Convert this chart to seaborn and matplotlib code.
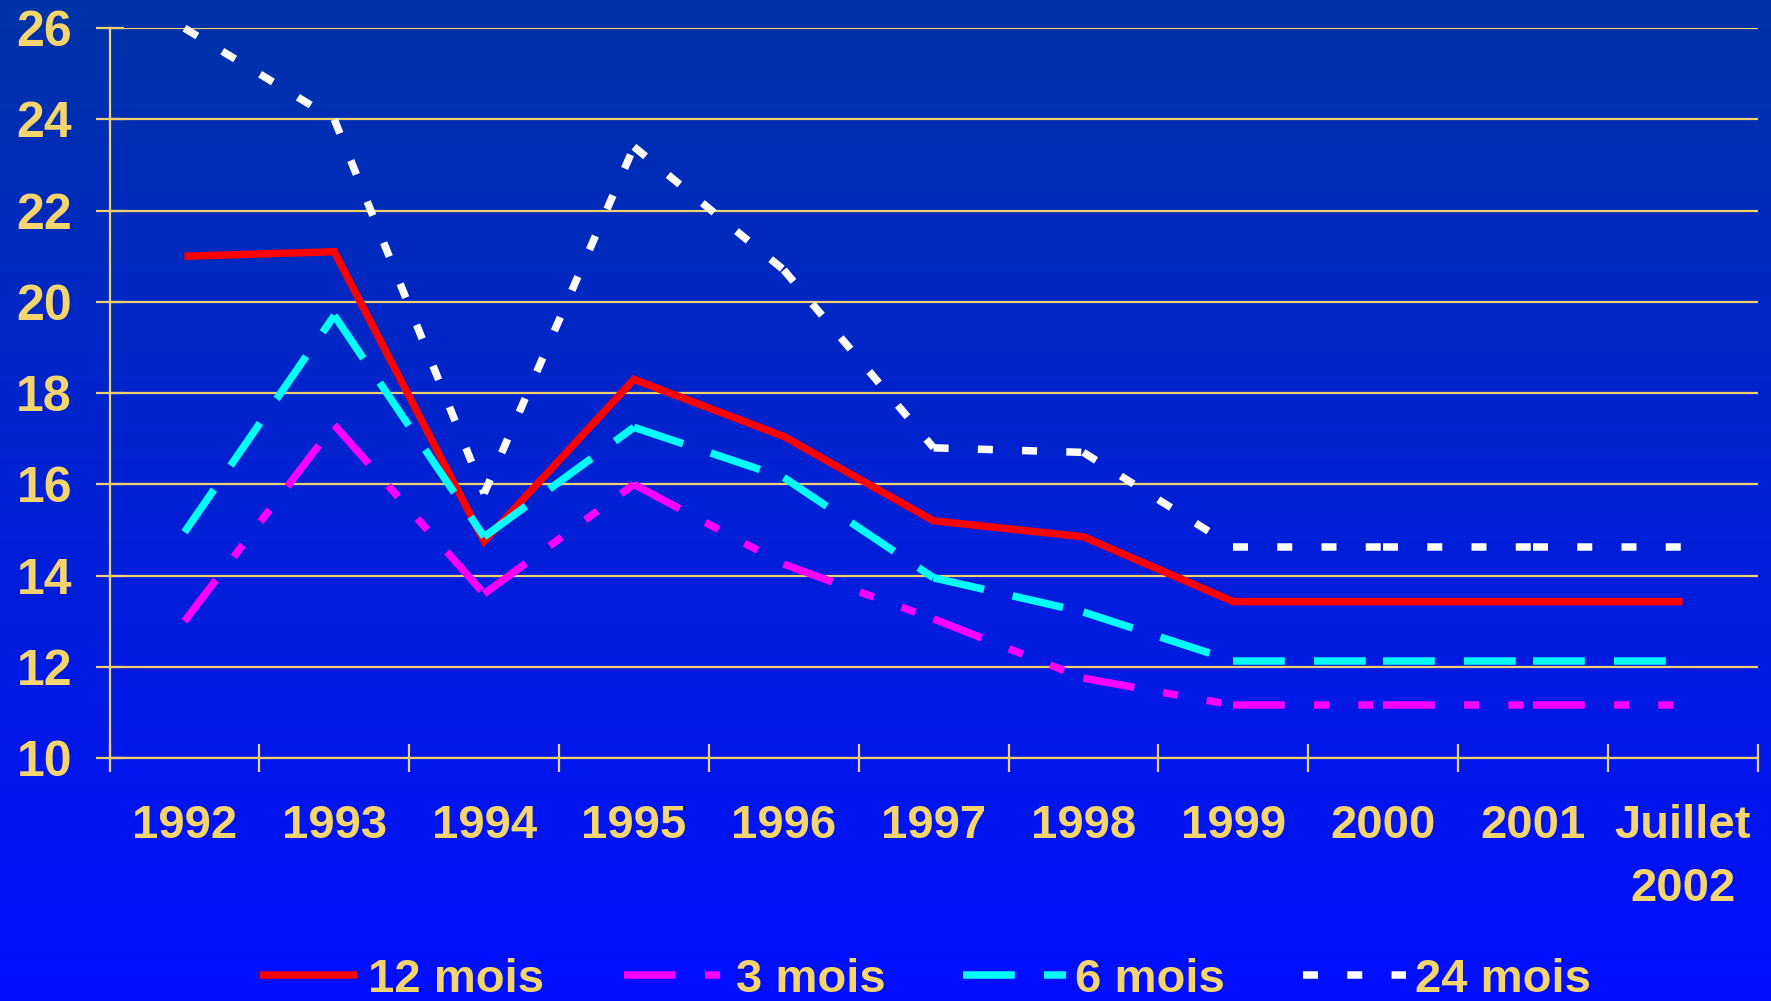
import numpy as np
import pandas as pd
import matplotlib
matplotlib.use("Agg")
import matplotlib.pyplot as plt
from matplotlib.lines import Line2D
import seaborn as sns

# ---- data -------------------------------------------------------------
periods = ["1992", "1993", "1994", "1995", "1996", "1997", "1998",
           "1999", "2000", "2001", "Juillet\n2002"]
series_names = ["12 mois", "3 mois", "6 mois", "24 mois"]
taux_12_mois = [21.0, 21.1, 14.75, 18.3, 17.05, 15.2, 14.85, 13.43, 13.43, 13.43, 13.43]
taux_3_mois = [13.0, 17.3, 13.6, 16.0, 14.25, 13.05, 11.75, 11.16, 11.16, 11.16, 11.16]
taux_6_mois = [14.95, 19.7, 14.85, 17.25, 16.15, 13.95, 13.2, 12.13, 12.13, 12.13, 12.13]
taux_24_mois = [26.0, 24.0, 15.8, 23.4, 20.7, 16.8, 16.7, 14.63, 14.63, 14.63, 14.63]
y_ticks = [10, 12, 14, 16, 18, 20, 22, 24, 26]

values = {"12 mois": taux_12_mois, "3 mois": taux_3_mois,
          "6 mois": taux_6_mois, "24 mois": taux_24_mois}

# ---- style ------------------------------------------------------------
W, H, DPI = 1771, 1001, 100
LW = 5.4
GOLD_TXT = "#F4D46C"
GOLD_LINE = "#EFCF6E"
palette = {"12 mois": "#FF0000", "3 mois": "#FF00FF",
           "6 mois": "#00FFFF", "24 mois": "#FFFFFF"}
dash_map = {"12 mois": "",
            "3 mois": (6.9, 3.9, 2.0, 3.9, 2.0, 3.9),
            "6 mois": (6.9, 3.9),
            "24 mois": (2.0, 3.9)}

sns.set_style("ticks")
plt.rcParams["font.family"] = ["Liberation Sans", "DejaVu Sans"]
plt.rcParams["font.weight"] = "bold"
plt.rcParams["lines.solid_joinstyle"] = "miter"
plt.rcParams["lines.solid_capstyle"] = "butt"
plt.rcParams["lines.dash_capstyle"] = "butt"

# ---- long-form table: dashed series are split per interval so the
#      dash pattern restarts at every year, the solid one stays whole
rows = []
for name in series_names:
    v = values[name]
    if dash_map[name] == "":
        for i, y in enumerate(v):
            rows.append({"serie": name, "pos": i, "taux": y, "seg": f"{name}-all"})
    else:
        for i in range(len(v) - 1):
            rows.append({"serie": name, "pos": i, "taux": v[i], "seg": f"{name}-{i}"})
            rows.append({"serie": name, "pos": i + 1, "taux": v[i + 1], "seg": f"{name}-{i}"})
df = pd.DataFrame(rows)

fig = plt.figure(figsize=(W / DPI, H / DPI), dpi=DPI)

# vertical blue gradient background
bg = fig.add_axes([0, 0, 1, 1], zorder=-5)
t = np.linspace(0, 1, 512)[:, None]
top = np.array([0.0, 0.20, 0.66])
bottom = np.array([0.0, 0.055, 1.0])
grad = (top[None, :] * (1 - t) + bottom[None, :] * t)[:, None, :]
bg.imshow(grad, aspect="auto", extent=[0, 1, 0, 1], interpolation="bilinear")
bg.set_axis_off()

ax = fig.add_axes([109.6 / W, (H - 758) / H, 1648 / W, 729.8 / H])
ax.set_facecolor("none")

sns.lineplot(data=df, x="pos", y="taux", hue="serie", style="serie",
             units="seg", estimator=None, sort=False,
             hue_order=series_names, style_order=series_names,
             palette=palette, dashes=dash_map, linewidth=LW,
             legend=False, ax=ax)
for ln in ax.lines:
    ln.set_clip_on(False)
    ln.set_zorder(3)

ax.set_xlim(-0.5, 10.5)
ax.set_ylim(10, 26)
ax.set_xlabel("")
ax.set_ylabel("")

ax.set_xticks(range(len(periods)))
ax.set_xticklabels(periods)
ax.set_xticks(np.arange(-0.5, len(periods) + 0.5, 1), minor=True)
ax.set_yticks(y_ticks)
ax.set_yticklabels([str(v) for v in y_ticks])

ax.tick_params(axis="x", which="major", length=0, pad=33,
               labelsize=34, labelcolor=GOLD_TXT)
ax.tick_params(axis="x", which="minor", length=20, width=1.6,
               direction="inout", color=GOLD_LINE)
ax.tick_params(axis="y", which="major", length=20, width=1.6,
               direction="inout", color=GOLD_LINE, pad=17,
               labelsize=36, labelcolor=GOLD_TXT)
ax.tick_params(axis="y", which="minor", length=0)
for lbl in ax.get_xticklabels() + ax.get_yticklabels():
    lbl.set_fontweight("bold")
for lbl in ax.get_xticklabels():
    lbl.set_linespacing(1.55)

ax.set_axisbelow(True)
ax.grid(axis="y", which="major", color=GOLD_LINE, linewidth=1.6)
ax.grid(axis="x", visible=False)
for side in ("top", "right"):
    ax.spines[side].set_visible(False)
for side in ("left", "bottom"):
    ax.spines[side].set_color(GOLD_LINE)
    ax.spines[side].set_linewidth(1.6)

# ---- legend row along the bottom edge -------------------------------
legend_entries = [("12 mois", 260, 357, 368),
                  ("3 mois", 624, 720, 736),
                  ("6 mois", 963, 1066, 1075),
                  ("24 mois", 1303, 1406, 1415)]
handle_y = 1 - 975.0 / H
text_y = 1 - 991.5 / H
for name, x0, x1, tx in legend_entries:
    ls = "-" if dash_map[name] == "" else (0, dash_map[name])
    fig.add_artist(Line2D([x0 / W, x1 / W], [handle_y, handle_y],
                          transform=fig.transFigure, color=palette[name],
                          linewidth=LW, linestyle=ls,
                          solid_capstyle="butt", dash_capstyle="butt"))
    fig.text(tx / W, text_y, name, fontsize=34, fontweight="bold",
             color=GOLD_TXT, ha="left", va="baseline")

fig.savefig("out.png", dpi=DPI)
